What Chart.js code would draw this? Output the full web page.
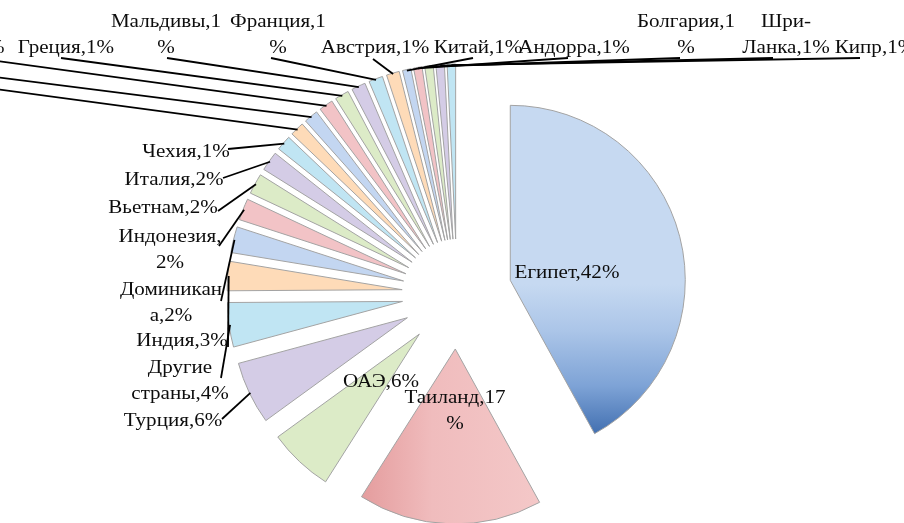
<!DOCTYPE html>
<html>
<head>
<meta charset="utf-8">
<script src="https://cdn.jsdelivr.net/npm/chart.js@4.4.0/dist/chart.umd.min.js"></script>
<style>
  html, body { margin: 0; padding: 0; background: #fff; }
  #wrap { width: 904px; height: 523px; position: relative; }
</style>
</head>
<body>
<div id="wrap"><canvas id="chart-pie" width="904" height="523"></canvas></div>
<script>
// страны и доли (%), по часовой стрелке от верхней точки
var countries = ['Египет','Таиланд','ОАЭ','Турция','Другие страны','Индия','Доминикана','Индонезия',
                 'Вьетнам','Италия','Чехия','Испания','Черногория','Хорватия','Греция','Мальдивы',
                 'Франция','Австрия','Китай','Андорра','Болгария','Шри-Ланка','Кипр'];
var shares    = [42, 17, 6, 5.8, 4.1, 2.7, 2.4, 2.0, 1.9, 1.8, 1.4, 1.3, 1.3, 1.3, 1.3, 1.3,
                 1.3, 1.2, 0.78, 0.78, 0.78, 0.78, 0.78];
// подписи как на картинке (с переносами)
var labelLines = [
  ['Египет,42%'], ['Таиланд,17','%'], ['ОАЭ,6%'], ['Турция,6%'], ['Другие','страны,4%'],
  ['Индия,3%'], ['Доминикан','а,2%'], ['Индонезия,','2%'], ['Вьетнам,2%'], ['Италия,2%'],
  ['Чехия,1%'], ['Испания,1%'], ['Черногория,1%'], ['Хорватия,1%'], ['Греция,1%'],
  ['Мальдивы,1','%'], ['Франция,1','%'], ['Австрия,1%'], ['Китай,1%'], ['Андорра,1%'],
  ['Болгария,1','%'], ['Шри-','Ланка,1%'], ['Кипр,1%']
];

var palette = ['#c3d6f1','#f2c3c6','#dcebc7','#d4cce6','#c0e5f3','#fedbb8'];
var EXPLODE = 55;
var TEXT_SX = 1.17;

// положение подписей: x,y центра первой строки; ax,ay — начало выноски
var labelPos = [
  {x:567, y:273}, {x:455, y:398}, {x:381, y:382},
  {x:173, y:421, ax:222, ay:419}, {x:180, y:368, ax:221, ay:378},
  {x:182, y:341, ax:228, ay:347}, {x:171, y:290, ax:221, ay:301},
  {x:170, y:237, ax:219, ay:246}, {x:163, y:208, ax:218, ay:211},
  {x:174, y:180, ax:223, ay:178}, {x:186, y:152, ax:228, ay:149},
  {x:-110, y:84, ax:-20, ay:87}, {x:-120, y:70, ax:-20, ay:75},
  {x:-54, y:48, ax:-10, ay:60}, {x:66, y:48, ax:61, ay:58},
  {x:166, y:22, ax:167, ay:58}, {x:278, y:22, ax:271, ay:58},
  {x:375, y:48, ax:373, ay:59}, {x:478, y:48, ax:473, ay:58},
  {x:574, y:48, ax:568, ay:58}, {x:686, y:22, ax:680, ay:58},
  {x:786, y:22, ax:773, ay:58}, {x:875, y:48, ax:860, ay:58}
];

function sliceColor(c) {
  var i = c.dataIndex;
  var area = c.chart.chartArea;
  if (!area) return palette[i % palette.length];
  var cx = (area.left + area.right) / 2, cy = (area.top + area.bottom) / 2;
  var g;
  if (i === 0) {
    g = c.chart.ctx.createLinearGradient(0, cy + 4, 0, cy + 160);
    g.addColorStop(0, '#c6d9f1');
    g.addColorStop(0.3, '#abc5e8');
    g.addColorStop(0.65, '#7ea3d6');
    g.addColorStop(1, '#3a69ac');
    return g;
  }
  if (i === 1) {
    g = c.chart.ctx.createLinearGradient(cx - 95, 0, cx + 85, 0);
    g.addColorStop(0, '#e49c9d');
    g.addColorStop(0.4, '#f0bcbd');
    g.addColorStop(1, '#f4c8c8');
    return g;
  }
  return palette[i % palette.length];
}

// раздвинутые сектора: рисуем каждую дугу со сдвигом по биссектрисе
var explodePlugin = {
  id: 'explode',
  beforeDatasetDraw: function(chart, args) {
    var ctx = chart.ctx;
    args.meta.data.forEach(function(arc) {
      var mid = (arc.startAngle + arc.endAngle) / 2;
      ctx.save();
      ctx.translate(Math.cos(mid) * EXPLODE, Math.sin(mid) * EXPLODE);
      arc.draw(ctx);
      ctx.restore();
    });
    return false;
  }
};

var labelsPlugin = {
  id: 'pieLabels',
  afterDatasetsDraw: function(chart) {
    var ctx = chart.ctx;
    var arcs = chart.getDatasetMeta(0).data;
    ctx.save();
    // выноски
    ctx.strokeStyle = '#000';
    ctx.lineWidth = 1.8;
    arcs.forEach(function(arc, i) {
      var p = labelPos[i];
      if (p.ax === undefined) return;
      var mid = (arc.startAngle + arc.endAngle) / 2;
      var r = arc.outerRadius + EXPLODE - 1;
      ctx.beginPath();
      ctx.moveTo(p.ax, p.ay);
      ctx.lineTo(arc.x + Math.cos(mid) * r, arc.y + Math.sin(mid) * r);
      ctx.stroke();
    });
    // текст
    ctx.fillStyle = '#0d0d0d';
    ctx.font = '18px "Liberation Serif", "Times New Roman", serif';
    ctx.textAlign = 'center';
    ctx.textBaseline = 'middle';
    labelLines.forEach(function(lines, i) {
      var p = labelPos[i];
      lines.forEach(function(s, k) {
        ctx.save();
        ctx.translate(p.x, p.y + k * 26);
        ctx.scale(TEXT_SX, 1);
        ctx.fillText(s, 0, 0);
        ctx.restore();
      });
    });
    ctx.restore();
  }
};

new Chart(document.getElementById('chart-pie'), {
  type: 'pie',
  data: {
    labels: countries,
    datasets: [{
      data: shares,
      backgroundColor: sliceColor,
      borderColor: '#a3a3a3',
      borderWidth: 1,
      radius: 175
    }]
  },
  options: {
    responsive: false,
    animation: false,
    layout: { padding: { left: 10, top: 65, right: 0, bottom: 0 } },
    plugins: { legend: { display: false }, tooltip: { enabled: false } }
  },
  plugins: [explodePlugin, labelsPlugin]
});
</script>
</body>
</html>
